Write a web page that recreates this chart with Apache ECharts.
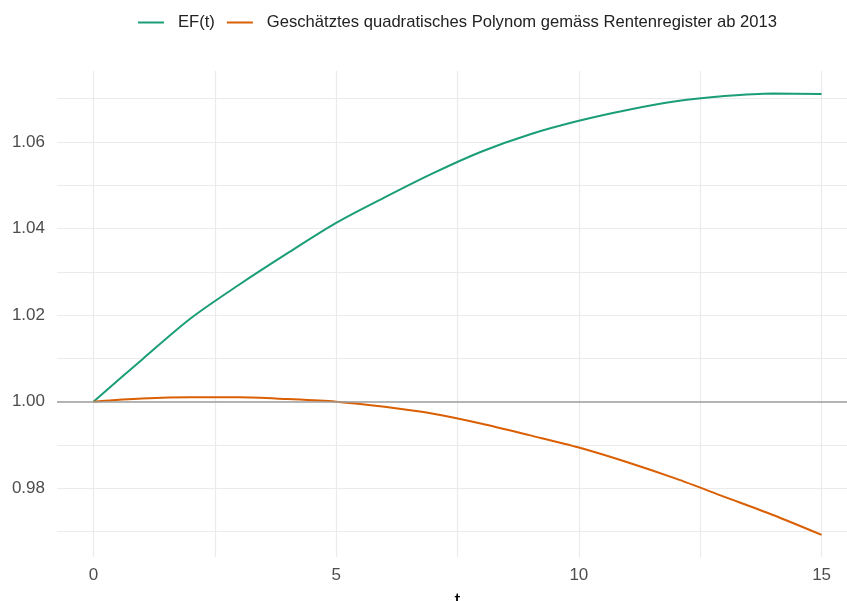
<!DOCTYPE html>
<html>
<head>
<meta charset="utf-8">
<script src="https://cdn.jsdelivr.net/npm/echarts@6/dist/echarts.min.js"></script>
<style>
html,body{margin:0;padding:0;background:#fff;}
#chart{width:847px;height:601px;}
</style>
</head>
<body>
<div id="chart"></div>
<script>
// ---- data ----
const tValues = [0,1,2,3,4,5,6,7,8,9,10,11,12,13,14,15];
const efValues = [1.0000,1.0097,1.0192,1.0270,1.0343,1.0413,1.0472,1.0528,1.0578,1.0618,1.0649,1.0674,1.0694,1.0706,1.0712,1.0711];
const polyValues = [1.0000,1.0007,1.0010,1.0010,1.0006,1.0000,0.9988,0.9972,0.9949,0.9922,0.9894,0.9860,0.9822,0.9780,0.9738,0.9692];
const seriesNames = ['EF(t)','Geschätztes quadratisches Polynom gemäss Rentenregister ab 2013'];
const xGridValues = [0,2.5,5,7.5,10,12.5,15];
const xTickLabels = [0,5,10,15];
const yGridValues = [0.97,0.98,0.99,1.00,1.01,1.02,1.03,1.04,1.05,1.06,1.07];
const yTickLabels = [0.98,1.00,1.02,1.04,1.06];
const referenceLine = 1.0;

const colors = ['#1b9e77','#d95f02'];
const font = 'Liberation Sans, Arial, Helvetica, sans-serif';

const chart = echarts.init(document.getElementById('chart'), null, {renderer:'canvas'});
chart.setOption({
  animation:false,
  backgroundColor:'#ffffff',
  color:colors,
  textStyle:{fontFamily:font},
  legend:{
    top:9,
    left:133,
    icon:'rect',
    itemWidth:26,
    itemHeight:2,
    itemGap:12,
    data:seriesNames,
    textStyle:{fontFamily:font,fontSize:16.6,color:'#222',padding:[0,0,0,9]}
  },
  grid:{left:57,right:-11,top:71,bottom:44,outerBoundsMode:'none',containLabel:false},
  xAxis:{
    type:'value',
    min:-0.75,max:15.75,
    name:'t',
    nameLocation:'middle',
    nameGap:34,
    nameTextStyle:{fontFamily:font,fontSize:21,color:'#000'},
    axisLine:{show:false},
    axisTick:{show:false,customValues:xGridValues},
    axisLabel:{customValues:xTickLabels,color:'#4d4d4d',fontSize:17,fontFamily:font,margin:10},
    splitLine:{show:true,lineStyle:{color:'#ebebeb',width:1.2}}
  },
  yAxis:{
    type:'value',
    min:0.9641,max:1.0764,
    axisLine:{show:false},
    axisTick:{show:false,customValues:yGridValues},
    axisLabel:{customValues:yTickLabels,color:'#4d4d4d',fontSize:17,fontFamily:font,margin:12,
      formatter:v=>Number(v).toFixed(2)},
    splitLine:{show:true,lineStyle:{color:'#ebebeb',width:1.2}}
  },
  series:[
    {
      name:'ref',type:'line',data:[],z:1,silent:true,
      markLine:{silent:true,symbol:['none','none'],label:{show:false},
        lineStyle:{color:'#9e9e9e',width:1.5,type:'solid'},
        data:[{yAxis:referenceLine}]}
    },
    {
      name:seriesNames[0],type:'line',z:3,
      data:tValues.map((t,i)=>[t,efValues[i]]),
      showSymbol:false,smooth:0.3,
      lineStyle:{color:colors[0],width:2},
      itemStyle:{color:colors[0]}
    },
    {
      name:seriesNames[1],type:'line',z:3,
      data:tValues.map((t,i)=>[t,polyValues[i]]),
      showSymbol:false,smooth:0.3,
      lineStyle:{color:colors[1],width:2},
      itemStyle:{color:colors[1]}
    }
  ]
});
</script>
</body>
</html>
